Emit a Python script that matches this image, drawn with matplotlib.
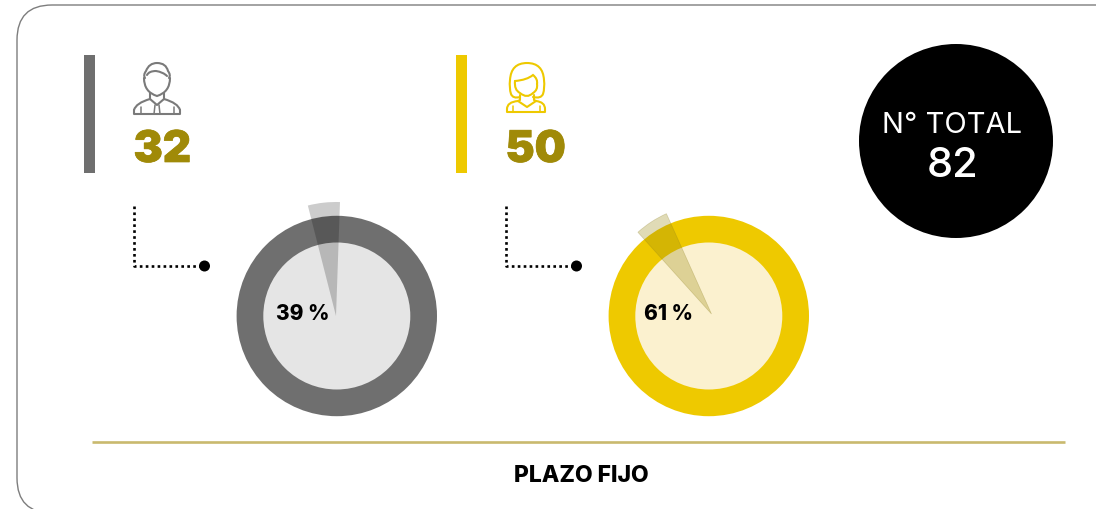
import matplotlib
matplotlib.use("Agg")
import matplotlib.pyplot as plt
import matplotlib.patheffects as pe
from matplotlib.patches import Circle, FancyBboxPatch, Rectangle, Wedge, PathPatch
from matplotlib.path import Path

groups = ["Hombres", "Mujeres"]
counts = [32, 50]
shares = [39, 61]
total = 82
section = "PLAZO FIJO"
# wedge pointer, angles (screen degrees, clockwise from +x)
pointer_from = [-104.3, -132.0]
pointer_to = [-88.0, -114.2]
pointer_radius = [114, 110]

ring_colors = ["#6f6f6f", "#eec900"]
inner_colors = ["#e5e5e5", "#fbf1cf"]
pointer_colors = ["#000000", "#9a8a10"]
pointer_edges = ["none", "#8a7c20"]
pointer_alpha = [0.2, 0.3]
number_color = "#a08a08"

fig = plt.figure(figsize=(10.96, 5.10), dpi=100)
ax = fig.add_axes([0, 0, 1, 1])
ax.set_xlim(0, 1096)
ax.set_ylim(509, -1)
ax.axis("off")

# card outline, runs off the right and bottom edges
ax.add_patch(FancyBboxPatch((52, 40), 1094, 438, boxstyle="round,pad=35,rounding_size=35",
                            fc="white", ec="#7d7d7d", lw=1.0))


def line(xs, ys, color, lw=1.5):
    ax.plot(xs, ys, color=color, lw=lw, solid_capstyle="round", solid_joinstyle="round")


def curve(points, color, lw=1.5):
    codes = [Path.MOVETO] + [Path.CURVE3] * (len(points) - 1)
    ax.add_patch(PathPatch(Path(points, codes), fc="none", ec=color, lw=lw, capstyle="round"))


def man_icon(c):
    # face
    curve([(144, 78), (144, 92), (157, 96), (170, 92), (170, 78)], c)
    # hair
    curve([(145, 78), (143, 75), (146, 71), (149, 63), (157, 63), (166, 63), (168, 71),
           (171, 75), (169, 78)], c)
    curve([(147, 75), (149, 71), (156, 71), (163, 72), (167, 76)], c)
    # shoulders
    line([150, 150], [93, 99], c)
    line([164, 164], [93, 99], c)
    curve([(150, 99), (136, 103), (134, 110)], c)
    curve([(164, 99), (178, 103), (180, 110)], c)
    line([134, 134, 180, 180], [110, 114, 114, 110], c)
    line([150, 157, 164], [99, 105, 99], c)
    # tie
    line([155, 154, 160, 159], [105, 114, 114, 105], c, 1.1)
    line([141, 141], [107, 114], c, 1.1)
    line([174, 174], [107, 114], c, 1.1)


def woman_icon(c):
    # hair
    curve([(520, 97), (513, 99), (511, 94), (509, 88), (510, 80), (511, 63), (527, 63),
           (543, 63), (544, 80), (545, 88), (543, 94), (541, 99), (533, 97)], c)
    # face
    curve([(515, 81), (527, 80), (533, 75), (538, 79), (537, 84)], c)
    curve([(515, 81), (514, 90), (520, 93), (527, 99), (533, 93), (538, 90), (537, 84)], c)
    # neck and body
    line([520, 520, 518], [95, 100, 101], c)
    line([534, 534, 536], [95, 100, 101], c)
    line([518, 527, 536], [101, 107, 101], c)
    curve([(518, 101), (507, 102), (507, 109)], c)
    curve([(536, 101), (545, 102), (545, 109)], c)
    line([507, 507, 545, 545], [109, 112, 112, 109], c)
    line([513, 513], [106, 112], c, 1.1)
    line([540, 540], [106, 112], c, 1.1)


bar_x = [84, 456]
num_x = [133.5, 505.5]
elbow_x = [134, 506]
ring_x = [336.8, 708.8]
apex = [(336, 316), (711.5, 314)]
label_x = [303, 668.5]

for i, name in enumerate(groups):
    ax.add_patch(Rectangle((bar_x[i], 55), 11, 118, fc=ring_colors[i], ec="none"))
    ax.text(num_x[i], 146, str(counts[i]), color=number_color, fontsize=31.5, family="Inter",
            fontweight=900, ha="left", va="center_baseline",
            path_effects=[pe.withStroke(linewidth=0.5, foreground=number_color)])

    # dotted elbow
    ax.plot([elbow_x[i], elbow_x[i], elbow_x[i] + 70], [206, 266, 266], color="black", lw=1.9,
            ls=(0, (1, 1.25)))
    ax.add_patch(Circle((elbow_x[i] + 70.5, 266), 5.5, fc="black", ec="none"))

    # ring
    ax.add_patch(Circle((ring_x[i], 316), 100.2, fc=ring_colors[i], ec="none"))
    ax.add_patch(Circle((ring_x[i], 316), 73.5, fc=inner_colors[i], ec="none"))

    ax.add_patch(Wedge(apex[i], pointer_radius[i], pointer_from[i], pointer_to[i],
                       fc=pointer_colors[i], ec=pointer_edges[i], lw=0.5, alpha=pointer_alpha[i]))
    ax.text(label_x[i], 313, "%d %%" % shares[i], color="black", fontsize=15, family="Inter",
            fontweight=800, ha="center", va="center")

man_icon("#7a7a7a")
woman_icon(ring_colors[1])

# total
ax.add_patch(Circle((956, 141), 97, fc="black", ec="none"))
ax.text(952.5, 124.5, "N° TOTAL", color="white", fontsize=21, family="Inter", ha="center", va="center")
ax.text(952.5, 165, str(total), color="white", fontsize=30, family="Inter", fontweight=500,
        ha="center", va="center")

ax.plot([91.5, 1065], [442, 442], color="#c9b96e", lw=1.9, solid_capstyle="butt")
ax.text(581, 475, section, color="black", fontsize=16.5, family="Inter", fontweight=800,
        ha="center", va="center")

fig.savefig("out.png", dpi=100)
